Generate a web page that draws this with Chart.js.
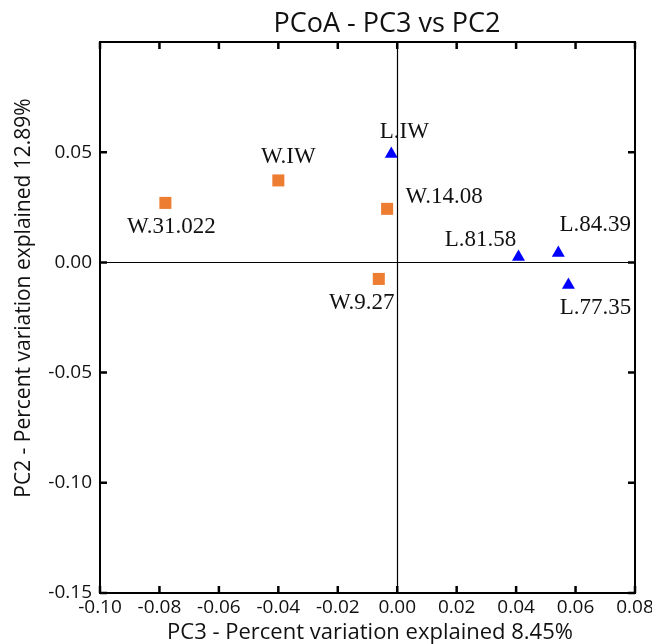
<!DOCTYPE html>
<html>
<head>
<meta charset="utf-8">
<title>PCoA - PC3 vs PC2</title>
<script src="https://cdn.jsdelivr.net/npm/chart.js@4.4.0/dist/chart.umd.min.js"></script>
<style>
  html, body { margin: 0; padding: 0; background: #fff; }
  #wrap { width: 652px; height: 644px; }
</style>
</head>
<body>
<div id="wrap"><canvas id="pcoaChart" width="652" height="644"></canvas></div>
<script>
// Sample names and coordinates
const wLabels = ['W.31.022', 'W.IW', 'W.14.08', 'W.9.27'];
const wPC3 = [-0.078, -0.040, -0.0034, -0.0062];
const wPC2 = [0.027, 0.0372, 0.0243, -0.0075];

const lLabels = ['L.IW', 'L.81.58', 'L.84.39', 'L.77.35'];
const lPC3 = [-0.002, 0.0408, 0.0542, 0.0576];
const lPC2 = [0.0492, 0.0025, 0.0043, -0.0102];

// Axis ranges and tick labels
const xRange = [-0.10, 0.08];
const yRange = [-0.15, 0.10];
const xTicks = [-0.10, -0.08, -0.06, -0.04, -0.02, 0.00, 0.02, 0.04, 0.06, 0.08];
const yTicks = [-0.15, -0.10, -0.05, 0.00, 0.05];

// Where each sample name sits relative to its marker (px)
const labelOffsets = {
  'W.31.022': [6, 30],
  'W.IW': [10, -17],
  'W.14.08': [57, -6],
  'W.9.27': [-17, 30],
  'L.IW': [13, -16],
  'L.81.58': [-38, -11],
  'L.84.39': [37, -22],
  'L.77.35': [27, 29]
};

const colors = {
  orange: '#ED7D31',
  blue: '#0000FF',
  axis: '#000000'
};

const sansFont = "'Open Sans', 'DejaVu Sans', sans-serif";
const serifFont = "'Liberation Serif', 'DejaVu Serif', serif";

function toPoints(xs, ys, names) {
  return xs.map((x, i) => ({ x: x, y: ys[i], name: names[i] }));
}

/**
 * Frame, zero lines, inward ticks, sample names and titles
 */
const pcoaDecor = {
  id: 'pcoaDecor',
  beforeDatasetsDraw(chart) {
    const { ctx, chartArea: a, scales } = chart;
    const x0 = Math.round(scales.x.getPixelForValue(0)) + 0.5;
    const y0 = Math.round(scales.y.getPixelForValue(0)) + 0.5;
    ctx.save();
    ctx.strokeStyle = colors.axis;
    ctx.lineWidth = 1.2;
    ctx.beginPath();
    ctx.moveTo(x0, a.top);
    ctx.lineTo(x0, a.bottom);
    ctx.moveTo(a.left, y0);
    ctx.lineTo(a.right, y0);
    ctx.stroke();
    ctx.restore();
  },
  afterDatasetsDraw(chart) {
    const { ctx } = chart;
    ctx.save();
    ctx.fillStyle = '#111';
    ctx.font = '23px ' + serifFont;
    ctx.textAlign = 'center';
    ctx.textBaseline = 'alphabetic';
    chart.data.datasets.forEach((ds, di) => {
      const meta = chart.getDatasetMeta(di);
      meta.data.forEach((pt, i) => {
        const name = ds.data[i].name;
        const off = labelOffsets[name] || [0, -14];
        ctx.fillText(name, pt.x + off[0], pt.y + off[1]);
      });
    });
    ctx.restore();
  },
  afterDraw(chart) {
    const { ctx, chartArea: a, scales } = chart;
    const tickLen = 7;
    ctx.save();
    ctx.strokeStyle = colors.axis;
    ctx.lineWidth = 2;
    ctx.strokeRect(a.left, a.top, a.right - a.left, a.bottom - a.top);

    ctx.lineWidth = 2.5;
    ctx.beginPath();
    xTicks.forEach(v => {
      const px = scales.x.getPixelForValue(v);
      ctx.moveTo(px, a.bottom);
      ctx.lineTo(px, a.bottom - tickLen);
      ctx.moveTo(px, a.top);
      ctx.lineTo(px, a.top + tickLen);
    });
    yTicks.forEach(v => {
      const py = scales.y.getPixelForValue(v);
      ctx.moveTo(a.left, py);
      ctx.lineTo(a.left + tickLen, py);
      ctx.moveTo(a.right, py);
      ctx.lineTo(a.right - tickLen, py);
    });
    ctx.stroke();

    // titles
    ctx.fillStyle = '#111';
    ctx.textAlign = 'center';
    ctx.textBaseline = 'alphabetic';
    ctx.font = '27px ' + sansFont;
    ctx.fillText('PCoA - PC3 vs PC2', 387, 32);

    ctx.font = '22px ' + sansFont;
    ctx.fillText('PC3 - Percent variation explained 8.45%', 370, 639);

    ctx.font = '21px ' + sansFont;
    ctx.translate(30, 298);
    ctx.rotate(-Math.PI / 2);
    ctx.fillText('PC2 - Percent variation explained 12.89%', 0, 0);
    ctx.restore();
  }
};

function initPcoaChart() {
  const ctx = document.getElementById('pcoaChart');
  if (!ctx) return;

  new Chart(ctx, {
    type: 'scatter',
    data: {
      datasets: [
        {
          label: 'W',
          data: toPoints(wPC3, wPC2, wLabels),
          pointStyle: 'rect',
          pointRadius: 8.5,
          pointHoverRadius: 8.5,
          backgroundColor: colors.orange,
          borderColor: colors.orange,
          borderWidth: 0
        },
        {
          label: 'L',
          data: toPoints(lPC3, lPC2, lLabels),
          pointStyle: 'triangle',
          pointRadius: 7.5,
          pointHoverRadius: 7.5,
          backgroundColor: colors.blue,
          borderColor: colors.blue,
          borderWidth: 0
        }
      ]
    },
    options: {
      responsive: false,
      animation: false,
      events: [],
      layout: {
        padding: { top: 42, right: 17, left: 0, bottom: 0 }
      },
      plugins: {
        legend: { display: false },
        tooltip: { enabled: false },
        title: { display: false }
      },
      scales: {
        x: {
          type: 'linear',
          min: xRange[0],
          max: xRange[1],
          grid: { display: false, drawTicks: false },
          border: { display: false },
          afterBuildTicks: scale => { scale.ticks = xTicks.map(v => ({ value: v })); },
          afterFit: scale => {
            scale.height = 51;
            scale.paddingLeft = 0;
            scale.paddingRight = 0;
          },
          ticks: {
            padding: 3,
            color: '#111',
            font: { family: sansFont, size: 19 },
            maxRotation: 0,
            callback: v => v.toFixed(2)
          }
        },
        y: {
          type: 'linear',
          min: yRange[0],
          max: yRange[1],
          grid: { display: false, drawTicks: false },
          border: { display: false },
          afterBuildTicks: scale => { scale.ticks = yTicks.map(v => ({ value: v })); },
          afterFit: scale => {
            scale.width = 100;
            scale.paddingTop = 0;
            scale.paddingBottom = 0;
          },
          ticks: {
            padding: 8,
            color: '#111',
            font: { family: sansFont, size: 19 },
            callback: v => v.toFixed(2)
          }
        }
      }
    },
    plugins: [pcoaDecor]
  });
}

document.addEventListener('DOMContentLoaded', initPcoaChart);
</script>
</body>
</html>
